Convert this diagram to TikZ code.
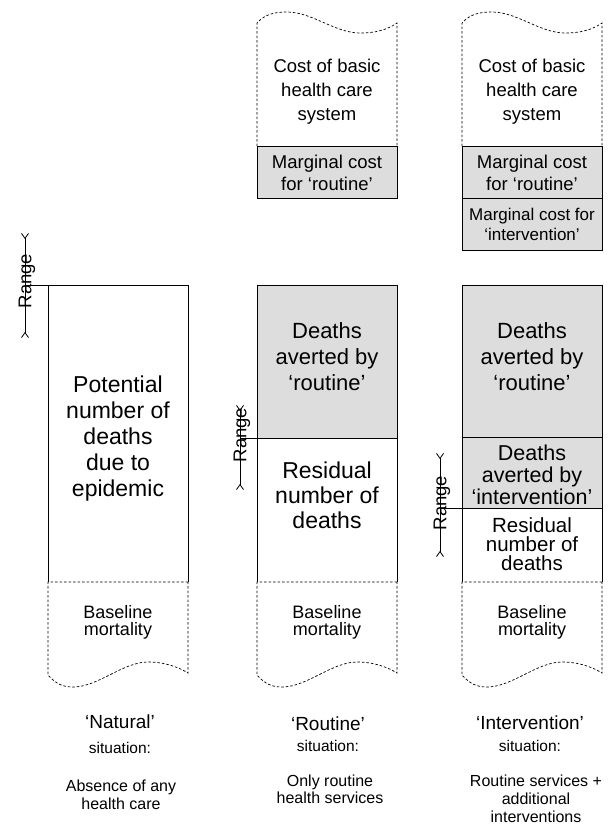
\documentclass[tikz,border=0pt]{standalone}
\usepackage{fontspec}
\setmainfont{Liberation Sans}
\usetikzlibrary{arrows.meta}
\definecolor{shade}{RGB}{221,221,221}
\tikzset{
  box/.style={draw=black, line width=0.8pt},
  dbox/.style={draw=black, line width=0.7pt, dash pattern=on 2.5pt off 2pt},
  rng/.style={line width=0.8pt, {Straight Barb[reversed,length=5pt,width=7pt]}-{Straight Barb[reversed,length=5pt,width=7pt]}},
  txt/.style={align=center, inner sep=0pt, anchor=north},
  rlabel/.style={rotate=90, inner sep=0pt, font=\fontsize{18.5}{20}\selectfont},
  basepart/.pic={
    \draw[dbox] (140,582) -- (0,582) -- (0,675)
      .. controls (8,684) and (15,687) .. (25,687)
      .. controls (50,687) and (75,662) .. (100,662)
      .. controls (118,662) and (132,668) .. (140,673) -- cycle;
  },
  costpart/.pic={
    \draw[dbox] (0,146) -- (0,23)
      .. controls (8,14) and (18,12) .. (30,12)
      .. controls (55,12) and (78,33) .. (103,33)
      .. controls (118,33) and (130,30) .. (140,23) -- (140,146);
  }
}
\begin{document}
\begin{tikzpicture}[x=1pt, y=-1pt]
\useasboundingbox (0,0) rectangle (613,825);

% ---------- Column 1 : Natural ----------
\draw[box] (25,285) -- (188,285) -- (188,582);
\draw[box] (48,285) -- (48,582);
\pic at (48,0) {basepart};
\draw[rng] (25,233) -- (25,338);
\node[rlabel] (r1) at (27,281) {Range};
\node[txt, font=\fontsize{23}{26}\selectfont] (pot) at (118,376) {Potential\\number of\\deaths\\due to\\epidemic};
\node[txt, font=\fontsize{18}{17.5}\selectfont] (b1) at (118,605) {Baseline\\mortality};
\node[txt, font=\fontsize{19}{22}\selectfont] (t1) at (120,715) {‘Natural’};
\node[txt, font=\fontsize{15.5}{18}\selectfont] (s1) at (120,742) {situation:};
\node[txt, font=\fontsize{16}{18}\selectfont] (d1) at (121,780) {Absence of any\\health care};

% ---------- Column 2 : Routine ----------
\pic at (257,0) {costpart};
\draw[box, fill=shade] (257,146) rectangle (397,198);
\draw[box, fill=shade] (257,285) rectangle (397,438);
\draw[box] (240,438) -- (397,438);
\draw[box] (257,438) -- (257,582);
\draw[box] (397,438) -- (397,582);
\pic at (257,0) {basepart};
\draw[rng] (240,405) -- (240,490);
\node[rlabel] (r2) at (242,435) {Range};
\node[txt, font=\fontsize{18.5}{24}\selectfont] (c2) at (327,59) {Cost of basic\\health care\\system};
\node[txt, font=\fontsize{18.5}{22}\selectfont] (m2) at (327,155) {Marginal cost\\for ‘routine’};
\node[txt, font=\fontsize{22}{26}\selectfont] (a2) at (327,322) {Deaths\\averted by\\‘routine’};
\node[txt, font=\fontsize{23}{25}\selectfont] (res2) at (327,462) {Residual\\number of\\deaths};
\node[txt, font=\fontsize{18}{17.5}\selectfont] (b2) at (327,605) {Baseline\\mortality};
\node[txt, font=\fontsize{19}{22}\selectfont] (t2) at (328,717) {‘Routine’};
\node[txt, font=\fontsize{15.5}{18}\selectfont] (s2) at (328,740) {situation:};
\node[txt, font=\fontsize{16}{17}\selectfont] (d2) at (330,775) {Only routine\\health services};

% ---------- Column 3 : Intervention ----------
\pic at (462,0) {costpart};
\draw[box, fill=shade] (462,146) rectangle (602,198);
\draw[box, fill=shade] (462,198) rectangle (602,250);
\draw[box, fill=shade] (462,285) rectangle (602,508);
\draw[box] (462,437) -- (602,437);
\draw[box] (440,508) -- (602,508);
\draw[box] (462,508) -- (462,582);
\draw[box] (602,508) -- (602,582);
\pic at (462,0) {basepart};
\draw[rng] (440,453) -- (440,557);
\node[rlabel] (r3) at (442,503) {Range};
\node[txt, font=\fontsize{18.5}{24}\selectfont] (c3) at (532,59) {Cost of basic\\health care\\system};
\node[txt, font=\fontsize{18.5}{22}\selectfont] (m3) at (532,155) {Marginal cost\\for ‘routine’};
\node[txt, font=\fontsize{17}{20}\selectfont] (mi3) at (532,208) {Marginal cost for\\‘intervention’};
\node[txt, font=\fontsize{22}{26}\selectfont] (a3) at (532,322) {Deaths\\averted by\\‘routine’};
\node[txt, font=\fontsize{21.5}{22}\selectfont] (ai3) at (532,445) {Deaths\\averted by\\‘intervention’};
\node[txt, font=\fontsize{20.5}{19}\selectfont] (res3) at (532,517) {Residual\\number of\\deaths};
\node[txt, font=\fontsize{18}{17.5}\selectfont] (b3) at (532,605) {Baseline\\mortality};
\node[txt, font=\fontsize{19}{22}\selectfont] (t3) at (530,716) {‘Intervention’};
\node[txt, font=\fontsize{15.5}{18}\selectfont] (s3) at (530,740) {situation:};
\node[txt, font=\fontsize{16}{18}\selectfont] (d3) at (536,775) {Routine services +\\additional\\interventions};
\end{tikzpicture}
\end{document}
